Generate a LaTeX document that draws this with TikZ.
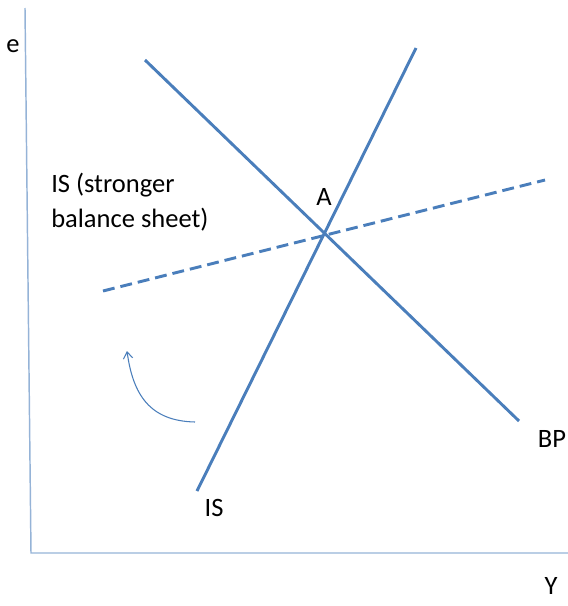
\documentclass[tikz,border=0pt]{standalone}
\usepackage{fontspec}
\setmainfont{Carlito}
\usetikzlibrary{arrows.meta}

\definecolor{curveblue}{HTML}{4A7EBB}
\definecolor{axisblue}{HTML}{95B3D7}

\tikzset{
  curve/.style={draw=curveblue, line width=2.2pt},
  axis/.style={draw=axisblue, line width=1.1pt},
  lbl/.style={font=\fontsize{20}{26}\selectfont, inner sep=0pt}
}

\begin{document}
\begin{tikzpicture}[x=0.0265cm, y=-0.0265cm]
  \useasboundingbox (0,0) rectangle (568,606);
  % axes
  \coordinate (top) at (25,8);
  \coordinate (origin) at (31,553);
  \coordinate (right) at (568,553);
  \draw[axis] (top) -- (origin) -- (right);
  \node[lbl] (elab) at (13,46) {e};
  \node[lbl] (ylab) at (551,586) {Y};
  % curves
  \coordinate (is0) at (197,491);
  \coordinate (is1) at (416,48);
  \coordinate (bp0) at (145,60);
  \coordinate (bp1) at (519,421);
  \coordinate (isb0) at (103,291);
  \coordinate (isb1) at (545,180);
  \draw[curve] (is0) -- (is1);
  \draw[curve] (bp0) -- (bp1);
  \draw[curve, dash pattern=on 9pt off 4.5pt] (isb0) -- (isb1);
  % labels
  \node[lbl] (alab) at (324,197) {A};
  \node[lbl] (islab) at (214,508) {IS};
  \node[lbl] (bplab) at (552,439) {BP};
  \node[lbl, align=left, anchor=north west] (isblab) at (51,173)
       {IS (stronger\\balance sheet)};
  % shift arrow
  \coordinate (shift0) at (195,422);
  \coordinate (shift1) at (127,351);
  \draw[draw=curveblue, line width=0.8pt, -{Straight Barb[length=5pt,width=7pt]}]
       (shift0) .. controls (150,421) and (133,395) .. (shift1);
\end{tikzpicture}
\end{document}
